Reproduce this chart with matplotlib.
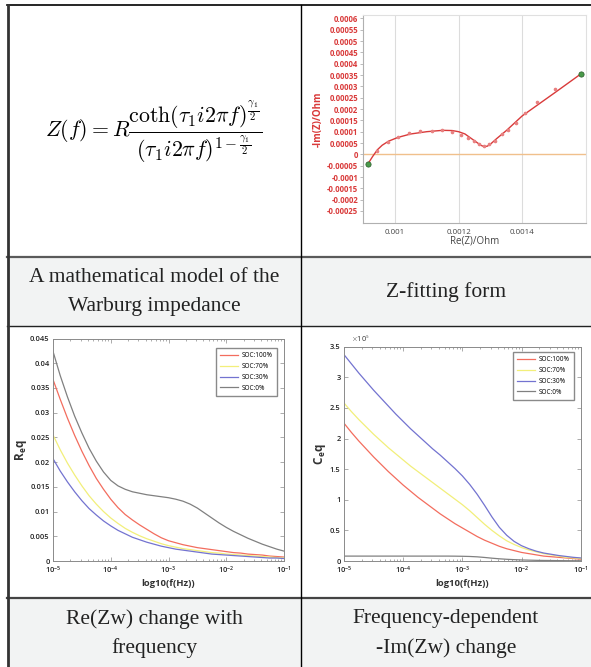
import matplotlib.pyplot as plt
import numpy as np
from matplotlib.lines import Line2D
from matplotlib.patches import Rectangle
from matplotlib.ticker import FuncFormatter, MultipleLocator, LogLocator, NullFormatter

plt.rcParams['mathtext.fontset'] = 'cm'
plt.rcParams['font.family'] = 'Open Sans'

# ---- Z-fitting (Nyquist) data ----
zre_pts = [0.000943, 0.000977, 0.00101, 0.001045, 0.001079, 0.001117, 0.001148, 0.00118,
           0.001207, 0.001229, 0.001247, 0.001263, 0.001279, 0.001297, 0.001313, 0.001335,
           0.001355, 0.001379, 0.001408, 0.001446, 0.001503]
zim_pts = [0.000015, 0.000053, 0.000078, 0.000095, 0.000102, 0.000105, 0.000106, 0.000099,
           0.000087, 0.000073, 0.000059, 0.000044, 0.000035, 0.000044, 0.000058, 0.00009,
           0.000108, 0.00014, 0.000181, 0.000233, 0.000288]
zre_fit = [0.000916, 0.00093, 0.000945, 0.00096, 0.00098, 0.00101, 0.00105, 0.0011, 0.00115,
           0.00118, 0.0012, 0.00122, 0.00124, 0.00126, 0.00127, 0.00128, 0.00129, 0.0013,
           0.00132, 0.00135, 0.0014, 0.0015, 0.001584]
zim_fit = [-0.000041, -0.00001, 0.00002, 0.00004, 0.000058, 0.000075, 0.00009, 0.0001, 0.000106,
           0.000105, 0.0001, 0.00009, 0.00007, 0.00005, 0.00004, 0.000034, 0.000036, 0.000045,
           0.00007, 0.000105, 0.00017, 0.00027, 0.000355]
zre_ends = [0.000916, 0.001584]
zim_ends = [-0.000041, 0.000356]

# ---- frequency grid (log10 Hz) ----
logf = [-5, -4.875, -4.75, -4.625, -4.5, -4.375, -4.25, -4.125, -4, -3.875, -3.75, -3.625,
        -3.5, -3.375, -3.25, -3.125, -3, -2.875, -2.75, -2.625, -2.5, -2.375, -2.25, -2.125,
        -2, -1.875, -1.75, -1.625, -1.5, -1.375, -1.25, -1.125, -1]

soc_labels = ['SOC:100%', 'SOC:70%', 'SOC:30%', 'SOC:0%']
soc_colors = ['#f36d5e', '#f2ef7a', '#7373d0', '#808080']

# ---- Req vs frequency ----
req_100 = [0.0367, 0.0327, 0.0289, 0.0254, 0.0222, 0.0193, 0.0167, 0.0145, 0.0125, 0.0108, 0.0094,
           0.0083, 0.0073, 0.0064, 0.0055, 0.0047, 0.0041, 0.0037, 0.0033, 0.0030, 0.0027, 0.0025,
           0.0023, 0.0021, 0.0019, 0.0017, 0.0016, 0.0014, 0.0013, 0.0012, 0.0010, 0.0009, 0.0008]
req_70 = [0.0255, 0.0225, 0.0198, 0.0174, 0.0152, 0.0132, 0.0115, 0.0100, 0.0087, 0.0076, 0.0066,
          0.0058, 0.0051, 0.0045, 0.0040, 0.0035, 0.0031, 0.0028, 0.0025, 0.0023, 0.0021, 0.0019,
          0.0017, 0.0016, 0.0014, 0.0013, 0.0012, 0.0011, 0.0010, 0.0009, 0.0008, 0.0007, 0.0006]
req_30 = [0.0207, 0.0182, 0.0160, 0.0140, 0.0122, 0.0106, 0.0093, 0.0081, 0.0071, 0.0062, 0.0055,
          0.0048, 0.0043, 0.0038, 0.0034, 0.0030, 0.0027, 0.0024, 0.0022, 0.0020, 0.0018, 0.0016,
          0.0014, 0.0013, 0.0012, 0.0011, 0.0010, 0.0009, 0.0008, 0.0007, 0.0006, 0.0006, 0.0005]
req_0 = [0.0424, 0.0375, 0.0332, 0.0293, 0.0259, 0.0228, 0.0202, 0.0180, 0.0163, 0.0152, 0.0145,
         0.0140, 0.0137, 0.0134, 0.0132, 0.0130, 0.0128, 0.0125, 0.0121, 0.0115, 0.0107, 0.0097,
         0.0087, 0.0077, 0.0068, 0.0060, 0.0053, 0.0046, 0.0040, 0.0034, 0.0029, 0.0024, 0.0020]

# ---- Ceq vs frequency (x1e5) ----
ceq_100 = [2.25, 2.10, 1.96, 1.83, 1.70, 1.58, 1.46, 1.35, 1.24, 1.14, 1.04, 0.95, 0.86, 0.77, 0.69,
           0.61, 0.54, 0.47, 0.40, 0.34, 0.29, 0.24, 0.20, 0.17, 0.14, 0.12, 0.10, 0.08, 0.07, 0.06,
           0.05, 0.04, 0.03]
ceq_70 = [2.58, 2.44, 2.31, 2.19, 2.07, 1.96, 1.85, 1.75, 1.65, 1.55, 1.46, 1.37, 1.28, 1.19, 1.10,
          1.01, 0.92, 0.82, 0.71, 0.60, 0.50, 0.41, 0.33, 0.27, 0.22, 0.18, 0.15, 0.12, 0.10, 0.08,
          0.06, 0.05, 0.04]
ceq_30 = [3.37, 3.22, 3.07, 2.93, 2.79, 2.66, 2.53, 2.40, 2.28, 2.16, 2.05, 1.94, 1.83, 1.73, 1.62,
          1.51, 1.39, 1.25, 1.09, 0.91, 0.72, 0.55, 0.42, 0.32, 0.25, 0.20, 0.16, 0.13, 0.11, 0.09,
          0.075, 0.06, 0.05]
ceq_0 = [0.08, 0.08, 0.08, 0.08, 0.08, 0.08, 0.08, 0.08, 0.08, 0.08, 0.08, 0.08, 0.08, 0.08, 0.08,
         0.079, 0.077, 0.074, 0.068, 0.058, 0.046, 0.036, 0.028, 0.022, 0.017, 0.014, 0.011, 0.009,
         0.008, 0.006, 0.005, 0.004, 0.004]

captions = [("A mathematical model of the", "Warburg impedance"),
            ("Z-fitting form", None),
            ("Re(Zw) change with", "frequency"),
            ("Frequency-dependent", "-Im(Zw) change")]

W, H = 591, 667
fig = plt.figure(figsize=(W / 100, H / 100), dpi=100)


def box(l, t, r, b):
    return fig.add_axes([l / W, 1 - b / H, (r - l) / W, (b - t) / H])


def hline(y, x0, x1, c, lw):
    fig.add_artist(Line2D([x0 / W, x1 / W], [1 - y / H, 1 - y / H], color=c, lw=lw))


def vline(x, y0, y1, c, lw):
    fig.add_artist(Line2D([x / W, x / W], [1 - y0 / H, 1 - y1 / H], color=c, lw=lw))


# caption backgrounds
for top, bot in [(258, 326), (599, 667)]:
    fig.add_artist(Rectangle((8 / W, 1 - bot / H), (W - 8) / W, (bot - top) / H,
                             transform=fig.transFigure, color='#f2f3f3', zorder=0))

hline(5, 7, W, 'black', 1.2)
hline(257, 7, W, '#5a5a5a', 1.6)
hline(326, 7, W, '#222222', 1.0)
hline(598, 7, W, '#444444', 1.6)
vline(8, 5, H, '#333333', 2.0)
vline(301, 5, H, 'black', 1.0)

# formula
fig.text(154 / W, 1 - 132 / H,
         r'$Z(f) = R\dfrac{\coth(\tau_1 i2\pi f)^{\frac{\gamma_1}{2}}}{(\tau_1 i2\pi f)^{1-\frac{\gamma_1}{2}}}$',
         ha='center', va='center', fontsize=15.7)

# captions
cap_font = dict(family='Liberation Serif', fontsize=15.5, color='#222222', ha='center', va='center')
cap_pos = [(154.5, 292.5), (446, 292.5), (154.5, 633.5), (446, 633.5)]
for (cx, cy), (l1, l2) in zip(cap_pos, captions):
    if l2 is None:
        fig.text(cx / W, 1 - cy / H, l1, **cap_font)
    else:
        fig.text(cx / W, 1 - (cy - 14.5) / H, l1, **cap_font)
        fig.text(cx / W, 1 - (cy + 14.5) / H, l2, **cap_font)


def fmt_plain(v, _):
    s = f"{v:.5f}".rstrip('0').rstrip('.')
    return '0' if s in ('-0', '') else s


# ---- Z-fit panel ----
red = '#d93a3a'
ax = box(363, 15, 586, 223)
ax.axhline(0, color='#f0c08c', lw=1, zorder=1)
ax.plot(zre_fit, zim_fit, color=red, lw=1, zorder=3)
ax.plot(zre_pts, zim_pts, 'o', ms=1.6, color='#e88080', zorder=4)
ax.plot(zre_ends, zim_ends, 'o', ms=3.8, color='#4a9a4a', mec='#2a5a2a', mew=0.5, zorder=5)
ax.set_xlim(0.0009, 0.0016)
ax.set_ylim(-0.000303, 0.000615)
ax.set_xticks([0.001, 0.0012, 0.0014])
ax.set_yticks(np.arange(-0.00025, 0.00061, 0.00005))
ax.xaxis.set_major_formatter(FuncFormatter(fmt_plain))
ax.yaxis.set_major_formatter(FuncFormatter(fmt_plain))
ax.grid(axis='x', color='#dcdcdc', lw=0.8)
ax.set_axisbelow(True)
for s in ['top', 'right']:
    ax.spines[s].set_color('#e0e0e0')
for s in ['left', 'bottom']:
    ax.spines[s].set_color('#b0b0b0')
ax.tick_params(axis='y', labelsize=5.6, colors='#b0b0b0', labelcolor=red, length=2, width=0.6, pad=1.5)
ax.tick_params(axis='x', labelsize=5.8, colors='#b0b0b0', labelcolor='#444444', length=0, pad=4)
for lab in ax.get_yticklabels():
    lab.set_fontweight('bold')
ax.set_xlabel('Re(Z)/Ohm', fontsize=7, color='#444444', labelpad=0)
ax.set_ylabel('-Im(Z)/Ohm', fontsize=7, color=red, fontweight='bold', labelpad=2)


def style_matlab(a):
    for s in a.spines.values():
        s.set_color('#8a8a8a')
        s.set_linewidth(0.7)
    a.tick_params(which='both', direction='in', top=True, right=True, colors='#8a8a8a',
                  labelcolor='#222222', labelsize=5.4, width=0.5, pad=2.5)
    a.tick_params(which='major', length=3)
    a.tick_params(which='minor', length=1.5)
    a.set_xscale('log')
    a.set_xlim(1e-5, 1e-1)
    a.xaxis.set_major_locator(LogLocator(base=10, numticks=10))
    a.xaxis.set_minor_locator(LogLocator(base=10, subs=np.arange(2, 10), numticks=10))
    a.xaxis.set_minor_formatter(NullFormatter())
    for lab in a.get_yticklabels() + a.get_xticklabels():
        lab.set_fontweight('semibold')
    a.set_xlabel('log10(f(Hz))', fontsize=6.8, fontweight='bold', color='#333333', labelpad=2)


freq = 10.0 ** np.array(logf)
leg_kw = dict(borderaxespad=0, fontsize=4.7, handlelength=2.8, labelspacing=0.6, fancybox=False,
              edgecolor='#8a8a8a', framealpha=1, borderpad=0.6, handletextpad=0.6)

# ---- Req panel ----
ax2 = box(53, 338.5, 284, 561)
for vals, c, lab in zip([req_100, req_70, req_30, req_0], soc_colors, soc_labels):
    ax2.plot(freq, vals, color=c, lw=0.9, label=lab)
ax2.set_ylim(0, 0.045)
ax2.yaxis.set_major_locator(MultipleLocator(0.005))
ax2.yaxis.set_major_formatter(FuncFormatter(lambda v, _: f"{v:g}"))
style_matlab(ax2)
ax2.set_ylabel(r'R$_\mathregular{e}$q', fontsize=8.5, fontweight='bold', color='#333333', labelpad=1)
ax2.legend(loc='upper right', bbox_to_anchor=(0.97, 0.957), **leg_kw)

# ---- Ceq panel ----
ax3 = box(344, 346.7, 580.7, 561)
for vals, c, lab in zip([ceq_100, ceq_70, ceq_30, ceq_0], soc_colors, soc_labels):
    ax3.plot(freq, vals, color=c, lw=0.9, label=lab)
ax3.set_ylim(0, 3.5)
ax3.yaxis.set_major_locator(MultipleLocator(0.5))
ax3.yaxis.set_major_formatter(FuncFormatter(lambda v, _: f"{v:g}"))
style_matlab(ax3)
ax3.set_ylabel(r'C$_\mathregular{e}$q', fontsize=8.5, fontweight='bold', color='#333333', labelpad=1)
ax3.text(0.03, 1.012, r'$\times$10$^5$', transform=ax3.transAxes, fontsize=5.4, color='#333333',
         ha='left', va='bottom')
ax3.legend(loc='upper right', bbox_to_anchor=(0.972, 0.975), **leg_kw)

fig.savefig('out.png', dpi=100)
